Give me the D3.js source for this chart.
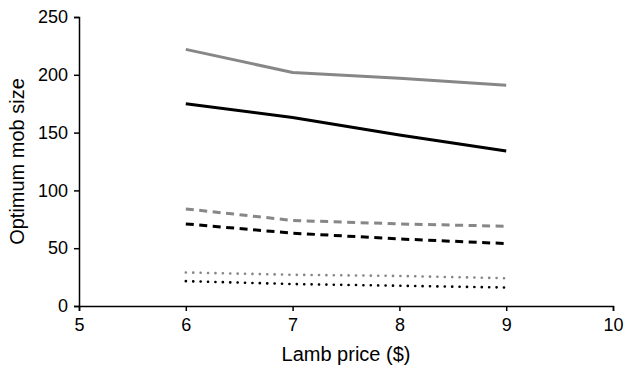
<!DOCTYPE html>
<html>
<head>
<meta charset="utf-8">
<script src="https://cdn.jsdelivr.net/npm/d3@7"></script>
<style>
  body { margin: 0; background: #fff; }
  svg text { font-family: "Liberation Sans", Arial, sans-serif; fill: #000; }
</style>
</head>
<body>
<svg id="chart" width="625" height="368"></svg>
<script>
const prices = [6, 7, 8, 9];
const graySolid = [222, 202, 197, 191];
const blackSolid = [175, 163, 148, 134];
const grayDashed = [84, 74, 71, 69];
const blackDashed = [71, 63, 58, 54];
const grayDotted = [29, 27, 26, 24];
const blackDotted = [21.5, 19, 17.5, 16];
const xTicks = [5, 6, 7, 8, 9, 10];
const yTicks = [0, 50, 100, 150, 200, 250];

const series = [
  {values: graySolid, color: "#878787", width: 3, dash: null, cap: "butt"},
  {values: blackSolid, color: "#000", width: 3, dash: null, cap: "butt"},
  {values: grayDashed, color: "#878787", width: 3, dash: "8,5.5", cap: "butt"},
  {values: blackDashed, color: "#000", width: 3, dash: "8,5.5", cap: "butt"},
  {values: grayDotted, color: "#878787", width: 2.6, dash: "0.1,7.3", cap: "round"},
  {values: blackDotted, color: "#000", width: 2.6, dash: "0.1,7.3", cap: "round"}
];

const svg = d3.select("#chart");
const margin = {top: 17, left: 79};
const width = 534, height = 289;
const g = svg.append("g").attr("transform", "translate(" + margin.left + "," + margin.top + ")");

const x = d3.scaleLinear().domain([5, 10]).range([0, width]);
const y = d3.scaleLinear().domain([0, 250]).range([height, 0]);

const xAxis = g.append("g")
    .attr("transform", "translate(0," + height + ")")
    .call(d3.axisBottom(x).tickValues(xTicks).tickSize(5).tickPadding(7).tickFormat(d3.format("d")));
const yAxis = g.append("g")
    .call(d3.axisLeft(y).tickValues(yTicks).tickSize(5).tickPadding(6));

[xAxis, yAxis].forEach(function(a) {
  a.attr("font-size", null).attr("font-family", null);
  a.select(".domain").attr("stroke", "#000").attr("stroke-width", 1.5);
  a.selectAll(".tick line").attr("stroke", "#000").attr("stroke-width", 1.5);
  a.selectAll(".tick text").attr("fill", "#000").style("font-size", "18px");
});

const line = d3.line()
    .x(function(d, i) { return x(prices[i]); })
    .y(function(d) { return y(d); });

g.selectAll(".series")
    .data(series)
  .enter().append("path")
    .attr("class", "series")
    .attr("fill", "none")
    .attr("d", function(d) { return line(d.values); })
    .attr("stroke", function(d) { return d.color; })
    .attr("stroke-width", function(d) { return d.width; })
    .attr("stroke-dasharray", function(d) { return d.dash; })
    .attr("stroke-linecap", function(d) { return d.cap; });

svg.append("text")
    .attr("x", margin.left + width / 2)
    .attr("y", 361)
    .attr("text-anchor", "middle")
    .style("font-size", "20px")
    .text("Lamb price ($)");

svg.append("text")
    .attr("transform", "translate(24," + (margin.top + height / 2) + ") rotate(-90)")
    .attr("text-anchor", "middle")
    .style("font-size", "20px")
    .text("Optimum mob size");
</script>
</body>
</html>
